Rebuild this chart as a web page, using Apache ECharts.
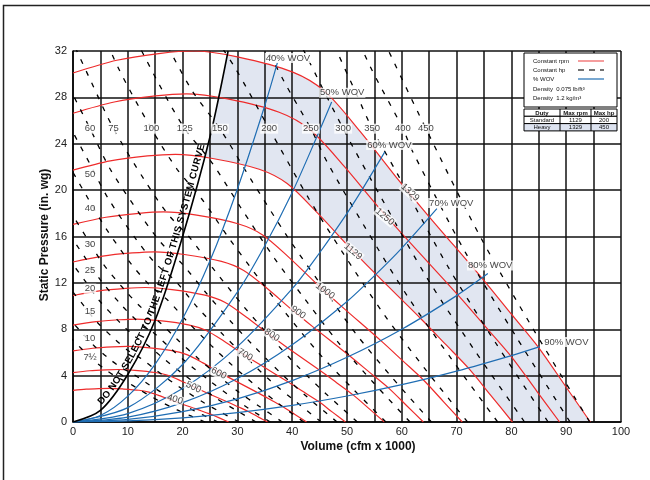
<!DOCTYPE html>
<html>
<head>
<meta charset="utf-8">
<script src="https://cdn.jsdelivr.net/npm/echarts/dist/echarts.min.js"></script>
<style>
html,body{margin:0;padding:0;background:#fff;}
#chart{width:650px;height:480px;}
</style>
</head>
<body>
<div id="chart"></div>
<script>
// ---------------- data ----------------
const xTickValues = [0,10,20,30,40,50,60,70,80,90,100];
const yTickValues = [0,4,8,12,16,20,24,28,32];

// constant rpm curves [volume, pressure]
const rpm1329 = [[0,30.1],[8,31.2],[16,31.8],[22,32.0],[30,31.5],[40,30.2],[46,28.5],[52.5,25.0],[59,21.1],[65,17.7],[75,12.2],[80,9.3],[85,6.4],[90,3.0],[94.4,0]];
const rpm1250 = [[0,26.63],[7.52,27.6],[15.05,28.13],[20.69,28.31],[28.22,27.87],[37.62,26.72],[43.27,25.21],[49.38,22.12],[55.5,18.67],[61.14,15.66],[70.55,10.79],[75.25,8.23],[79.95,5.66],[84.65,2.65],[88.79,0]];
const rpm1129 = [[0,21.72],[6.8,22.52],[13.59,22.95],[18.69,23.09],[25.49,22.73],[33.98,21.8],[39.08,20.57],[44.6,18.04],[50.12,15.23],[55.22,12.77],[63.71,8.8],[67.96,6.71],[72.21,4.62],[76.46,2.17],[80.19,0]];
const rpm1000 = [[0,17.04],[6.02,17.66],[12.04,18.0],[16.55,18.12],[22.57,17.84],[30.1,17.1],[34.61,16.14],[39.5,14.16],[44.39,11.95],[48.91,10.02],[56.43,6.91],[60.19,5.27],[63.95,3.62],[67.72,1.7],[71.03,0]];
const rpm900  = [[0,13.8],[5.42,14.31],[10.84,14.58],[14.9,14.68],[20.32,14.45],[27.09,13.85],[31.15,13.07],[35.55,11.47],[39.95,9.68],[44.02,8.12],[50.79,5.59],[54.18,4.26],[57.56,2.94],[60.95,1.38],[63.93,0]];
const rpm800  = [[0,10.91],[4.82,11.31],[9.63,11.52],[13.24,11.6],[18.06,11.42],[24.08,10.94],[27.69,10.33],[31.61,9.06],[35.52,7.65],[39.13,6.41],[45.15,4.42],[48.16,3.37],[51.17,2.32],[54.18,1.09],[56.83,0]];
const rpm700  = [[0,8.35],[4.21,8.66],[8.43,8.82],[11.59,8.88],[15.8,8.74],[21.07,8.38],[24.23,7.91],[27.65,6.94],[31.08,5.85],[34.24,4.91],[39.5,3.38],[42.14,2.58],[44.77,1.78],[47.4,0.83],[49.72,0]];
const rpm600  = [[0,6.13],[3.61,6.36],[7.22,6.48],[9.93,6.52],[13.55,6.42],[18.06,6.15],[20.77,5.81],[23.7,5.1],[26.64,4.3],[29.35,3.61],[33.86,2.49],[36.12,1.9],[38.38,1.3],[40.64,0.61],[42.62,0]];
const rpm500  = [[0,4.26],[3.01,4.42],[6.02,4.5],[8.28,4.53],[11.29,4.46],[15.05,4.27],[17.31,4.03],[19.75,3.54],[22.2,2.99],[24.45,2.5],[28.22,1.73],[30.1,1.32],[31.98,0.91],[33.86,0.42],[35.51,0]];
const rpm400  = [[0,2.73],[2.41,2.83],[4.82,2.88],[6.62,2.9],[9.03,2.85],[12.04,2.74],[13.85,2.58],[15.8,2.27],[17.76,1.91],[19.57,1.6],[22.58,1.11],[24.08,0.84],[25.59,0.58],[27.09,0.27],[28.41,0]];

// constant hp lines
const hp7_5 = [[24.1,0],[21.5,0.52],[19.0,1.04],[16.4,1.65],[14.4,2.16],[12.0,2.83],[9.9,3.43],[8.0,3.87],[6.0,4.5],[3.4,5.45],[1.56,6.32],[-0.26,7.17]];
const hp10  = [[26.5,0],[23.6,0.63],[20.9,1.26],[18.1,2.0],[15.9,2.62],[13.2,3.43],[10.9,4.16],[8.8,4.69],[6.6,5.45],[3.8,6.6],[1.7,7.66],[-0.28,8.69]];
const hp15  = [[30.3,0],[27.0,0.83],[23.9,1.66],[20.7,2.62],[18.1,3.44],[15.1,4.5],[12.5,5.45],[10.1,6.15],[7.6,7.15],[4.3,8.66],[1.96,10.04],[-0.32,11.4]];
const hp20  = [[33.4,0],[29.8,1.0],[26.3,2.0],[22.8,3.18],[20.0,4.17],[16.6,5.45],[13.7,6.6],[11.1,7.45],[8.4,8.66],[4.75,10.5],[2.16,12.2],[-0.35,13.8]];
const hp25  = [[36.0,0],[32.1,1.16],[28.4,2.33],[24.6,3.68],[21.5,4.83],[17.9,6.32],[14.8,7.66],[11.9,8.65],[9.0,10.0],[5.1,12.2],[2.33,14.1],[-0.38,16.0]];
const hp30  = [[38.2,0],[34.1,1.32],[30.1,2.63],[26.1,4.16],[22.9,5.46],[19.0,7.13],[15.7,8.65],[12.7,9.77],[9.6,11.3],[5.4,13.7],[2.47,15.9],[-0.41,18.1]];
const hp40  = [[42.1,0],[37.5,1.59],[33.2,3.19],[28.7,5.04],[25.2,6.61],[20.9,8.65],[17.3,10.5],[14.0,11.8],[10.5,13.7],[6.0,16.7],[2.72,19.3],[-0.45,21.9]];
const hp50  = [[45.3,0],[40.4,1.85],[35.7,3.7],[31.0,5.85],[27.1,7.67],[22.5,10.0],[18.6,12.2],[15.0,13.7],[11.3,15.9],[6.4,19.3],[2.93,22.4],[-0.48,25.4]];
const hp60  = [[48.2,0],[42.9,2.09],[38.0,4.18],[32.9,6.6],[28.8,8.67],[24.0,11.3],[19.8,13.7],[16.0,15.5],[12.1,18.0],[6.8,21.8],[3.12,25.3],[-0.51,28.7]];
const hp75  = [[51.9,0],[46.2,2.42],[40.9,4.84],[35.4,7.66],[31.0,10.05],[25.8,13.1],[21.3,15.9],[17.2,18.0],[13.0,20.9],[7.4,25.3],[3.36,29.3],[-0.55,33.3]];
const hp100 = [[57.1,0],[50.9,2.94],[45.0,5.87],[39.0,9.28],[34.2,12.2],[28.4,15.9],[23.4,19.3],[19.0,21.8],[14.3,25.3],[8.1,30.7],[3.7,35.6]];
const hp125 = [[61.5,0],[54.8,3.41],[48.5,6.81],[42.0,10.8],[36.8,14.1],[30.6,18.5],[25.3,22.4],[20.4,25.3],[15.4,29.4],[8.7,35.6]];
const hp150 = [[65.4,0],[58.2,3.85],[51.5,7.69],[44.7,12.2],[39.1,16.0],[32.5,20.9],[26.8,25.3],[21.7,28.6],[16.4,33.2]];
const hp200 = [[72.0,0],[64.1,4.66],[56.7,9.32],[49.1,14.7],[43.0,19.3],[35.8,25.3],[29.5,30.6],[23.9,34.6]];
const hp250 = [[77.5,0],[69.1,5.41],[61.1,10.8],[52.9,17.1],[46.4,22.4],[43.4,25.3],[38.6,29.3],[31.8,35.5]];
const hp300 = [[82.4,0],[73.4,6.1],[64.9,12.2],[56.3,19.3],[49.3,25.3],[41.0,33.1]];
const hp350 = [[86.7,0],[77.2,6.77],[68.3,13.5],[59.2,21.4],[54.6,25.3],[51.9,28.1],[43.6,36.7]];
const hp400 = [[90.7,0],[80.8,7.4],[71.4,14.8],[61.9,23.4],[60.2,25.3],[54.2,30.7],[45.1,40.1]];
const hp450 = [[94.3,0],[84.0,8],[74.3,16],[64.4,25.3],[56.4,33.2]];

// % WOV system lines
const wov40 = [[0,0],[5,0.56],[10,2.23],[15,5.0],[20,8.9],[25,13.9],[30,20.1],[35,27.3],[37.3,31.0]];
const wov50 = [[0,0],[10,1.24],[20,4.96],[30,11.2],[35,15.2],[40,19.8],[44.5,24.6],[47.2,27.6]];
const wov60 = [[0,0],[10,0.72],[20,2.88],[30,6.5],[40,11.5],[45,14.6],[50,18.0],[52.7,20.0],[56.9,23.3]];
const wov70 = [[0,0],[10,0.42],[20,1.67],[30,3.75],[40,6.67],[50,10.4],[55.4,12.8],[60,15.0],[66.4,18.4]];
const wov80 = [[0,0],[10,0.22],[20,0.89],[30,2.0],[40,3.57],[50,5.58],[60,8.0],[70,10.9],[75.7,12.8]];
const wov90 = [[0,0],[10,0.09],[20,0.36],[30,0.81],[40,1.43],[50,2.24],[60,3.22],[70,4.39],[80,5.73],[85.2,6.5]];

// "do not select" system curve
const sysCurve = [[0,0],[5,1.0],[10,4.1],[15,8.8],[20,16.0],[25,24.6],[28.3,32]];

// labels
const rpmLabelText = ['400','500','600','700','800','900','1000','1129','1250','1329'];
const rpmLabelAt = [[18.6,1.95],[22.0,3.0],[26.6,4.2],[31.4,5.8],[36.3,7.5],[41.1,9.45],[46.0,11.3],[51.1,14.7],[56.9,17.7],[61.5,19.8]];
const rpmLabelAngle = [18,25,27,31,33,36,37,40,40,42];

const hpLabelText = ['60','75','100','125','150','200','250','300','350','400','450','50','40','30','25','20','15','10','7½'];
const hpLabelAt = [[3.1,25.3],[7.4,25.3],[14.3,25.3],[20.4,25.3],[26.8,25.3],[35.8,25.3],[43.4,25.3],[49.3,25.3],[54.6,25.3],[60.2,25.3],[64.4,25.3],[3.1,21.4],[3.1,18.4],[3.1,15.3],[3.1,13.1],[3.1,11.5],[3.1,9.5],[3.1,7.2],[3.1,5.6]];

const wovLabelText = ['40% WOV','50% WOV','60% WOV','70% WOV','80% WOV','90% WOV'];
const wovLabelAt = [[35.0,31.4],[44.9,28.4],[53.5,23.9],[64.8,18.9],[71.9,13.5],[85.8,6.9]];

const curveText = 'DO NOT SELECT TO THE LEFT OF THIS SYSTEM CURVE';

const legendRows = ['Constant rpm','Constant hp','% WOV','Density  0.075 lb/ft³','Density  1.2 kg/m³'];
const tableHeader = ['Duty','Max rpm','Max hp'];
const tableRows = [['Standard','1129','200'],['Heavy','1329','450']];

// ---------------- chart ----------------
const FONT = '"Liberation Sans", Arial, Helvetica, sans-serif';
const RED = '#ee2b2b', BLUE = '#1f6db3', SHADE = '#e1e6f1';
const chart = echarts.init(document.getElementById('chart'), null, {renderer:'canvas', width:650, height:480});

const rpmCurves = [rpm400,rpm500,rpm600,rpm700,rpm800,rpm900,rpm1000,rpm1129,rpm1250,rpm1329];
const hpLines = [hp7_5,hp10,hp15,hp20,hp25,hp30,hp40,hp50,hp60,hp75,hp100,hp125,hp150,hp200,hp250,hp300,hp350,hp400,hp450];
const wovLines = [wov40,wov50,wov60,wov70,wov80,wov90];

const series = [];
series.push({type:'line', data:rpm1329, smooth:0.3, symbol:'none', silent:true, z:1,
  lineStyle:{width:0, opacity:0}, areaStyle:{color:SHADE, opacity:1}});
series.push({type:'line', data:rpm1129, smooth:0.3, symbol:'none', silent:true, z:2,
  lineStyle:{width:0, opacity:0}, areaStyle:{color:'#ffffff', opacity:1}});
series.push({type:'line', data:sysCurve, smooth:0.3, symbol:'none', silent:true, z:2,
  lineStyle:{width:0, opacity:0}, areaStyle:{color:'#ffffff', opacity:1, origin:'end'}});
rpmCurves.forEach(d => series.push({type:'line', data:d, smooth:0.3, symbol:'none', silent:true, z:4,
  lineStyle:{color:RED, width:1.2}}));
hpLines.forEach(d => series.push({type:'line', data:d, smooth:0.3, symbol:'none', silent:true, z:4,
  lineStyle:{color:'#000', width:1.3, type:[5,8]}}));
wovLines.forEach(d => series.push({type:'line', data:d, smooth:0.3, symbol:'none', silent:true, z:5,
  lineStyle:{color:BLUE, width:1.2}}));
series.push({type:'line', data:sysCurve, smooth:0.3, symbol:'none', silent:true, z:5,
  lineStyle:{color:'#000', width:1.6}});

const labelBase = {show:true, position:'inside', fontFamily:FONT, fontSize:9.5, color:'#111',
  backgroundColor:'#fff', padding:[0,1]};
series.push({type:'scatter', silent:true, z:7, symbolSize:1, itemStyle:{color:'rgba(0,0,0,0)'},
  data: rpmLabelText.map((t,i)=>({value:rpmLabelAt[i], label:{formatter:t, rotate:-rpmLabelAngle[i]}})),
  label: labelBase});
series.push({type:'scatter', silent:true, z:7, symbolSize:1, itemStyle:{color:'rgba(0,0,0,0)'},
  data: hpLabelText.map((t,i)=>({value:hpLabelAt[i], label:{formatter:t}})),
  label: labelBase});
series.push({type:'scatter', silent:true, z:6, symbolSize:1, itemStyle:{color:'rgba(0,0,0,0)'},
  data: wovLabelText.map((t,i)=>({value:wovLabelAt[i], label:{formatter:t}})),
  label: Object.assign({}, labelBase, {align:'left', fontSize:9.5})});

chart.setOption({
  animation:false,
  backgroundColor:'#fff',
  grid:{left:73, right:29, top:51, bottom:58, show:false},
  xAxis:{type:'value', min:0, max:100, interval:5, z:3,
    axisLine:{show:true, onZero:false, lineStyle:{color:'#000', width:1.5}},
    axisTick:{show:false},
    axisLabel:{margin:4, fontFamily:FONT, fontSize:11, color:'#222',
      formatter: v => xTickValues.indexOf(v) >= 0 ? String(v) : ''},
    splitLine:{show:true, lineStyle:{color:'#111', width:1.5}}},
  yAxis:{type:'value', min:0, max:32, interval:4, z:3,
    axisLine:{show:true, onZero:false, lineStyle:{color:'#000', width:1.5}},
    axisTick:{show:false},
    axisLabel:{margin:6, fontFamily:FONT, fontSize:11, color:'#222',
      formatter: v => yTickValues.indexOf(v) >= 0 ? String(v) : ''},
    splitLine:{show:true, lineStyle:{color:'#111', width:1.5}}},
  series: series
});

// ---------------- graphics: titles, legend box, table, frame, curved text ----------------
function txt(x, y, text, font, align, opts) {
  return Object.assign({type:'text', x:x, y:y, z:60, silent:true,
    style:{text:text, font:font, fill:'#111', align:align||'left', textAlign:align||'left',
      verticalAlign:'middle', textVerticalAlign:'middle'}}, opts||{});
}
const g = [];
g.push({type:'rect', z:100, silent:true, shape:{x:3.5, y:5.5, width:700, height:600},
  style:{fill:'transparent', stroke:'#222', lineWidth:1.5}});
g.push(txt(358, 447, 'Volume (cfm x 1000)', 'bold 12px ' + FONT, 'center'));
g.push(txt(45, 235, 'Static Pressure (in. wg)', 'bold 12px ' + FONT, 'center', {rotation:Math.PI/2}));

// legend box
const LX = 524, LY = 53, LW = 93, LH = 54;
g.push({type:'rect', z:50, silent:true, shape:{x:LX, y:LY, width:LW, height:LH},
  style:{fill:'#fff', stroke:'#000', lineWidth:1}});
const rowY = [61, 70, 79, 89, 98];
legendRows.forEach((t,i) => g.push(txt(LX+9, rowY[i], t, '6px ' + FONT, 'left')));
g.push({type:'line', z:60, silent:true, shape:{x1:578, y1:rowY[0], x2:604, y2:rowY[0]}, style:{stroke:'#f27d7d', lineWidth:1.5}});
g.push({type:'line', z:60, silent:true, shape:{x1:578, y1:rowY[1], x2:604, y2:rowY[1]}, style:{stroke:'#444', lineWidth:1.3, lineDash:[6,5]}});
g.push({type:'line', z:60, silent:true, shape:{x1:578, y1:rowY[2], x2:604, y2:rowY[2]}, style:{stroke:BLUE, lineWidth:1.2}});

// table
const TX = 524, TY = 109, colX = [524, 560, 591, 617], rowH = [7.3, 7.3, 7.3];
let yy = TY;
const allRows = [tableHeader].concat(tableRows);
allRows.forEach((r, ri) => {
  g.push({type:'rect', z:50, silent:true, shape:{x:TX, y:yy, width:colX[3]-colX[0], height:rowH[ri]},
    style:{fill: ri===2 ? '#dde3f0' : '#fff', stroke:'#000', lineWidth:1}});
  for (let c=0;c<3;c++) {
    if (c>0) g.push({type:'line', z:55, silent:true, shape:{x1:colX[c], y1:yy, x2:colX[c], y2:yy+rowH[ri]}, style:{stroke:'#000', lineWidth:1}});
    g.push(txt((colX[c]+colX[c+1])/2, yy+rowH[ri]/2+0.3, r[c], (ri===0?'bold ':'') + '6px ' + FONT, 'center'));
  }
  yy += rowH[ri];
});

// curved text along the system curve
(function(){
  const px = sysCurve.map(p => chart.convertToPixel({gridIndex:0}, p));
  const dense = [];
  const n = px.length;
  const f = (a,b,c,d,t) => { const t2=t*t, t3=t2*t; return 0.5*(2*b+(-a+c)*t+(2*a-5*b+4*c-d)*t2+(-a+3*b-3*c+d)*t3); };
  for (let i=0;i<n-1;i++){
    const p0=px[Math.max(i-1,0)], p1=px[i], p2=px[i+1], p3=px[Math.min(i+2,n-1)];
    for (let k=0;k<30;k++){ const t=k/30; dense.push([f(p0[0],p1[0],p2[0],p3[0],t), f(p0[1],p1[1],p2[1],p3[1],t)]); }
  }
  dense.push(px[n-1]);
  const cum=[0];
  for (let i=1;i<dense.length;i++) cum.push(cum[i-1]+Math.hypot(dense[i][0]-dense[i-1][0], dense[i][1]-dense[i-1][1]));
  const at = s => { let i=1; while(i<cum.length-1 && cum[i]<s) i++; const t=(s-cum[i-1])/((cum[i]-cum[i-1])||1);
    return [dense[i-1][0]+(dense[i][0]-dense[i-1][0])*t, dense[i-1][1]+(dense[i][1]-dense[i-1][1])*t]; };
  const sAtX = xp => { for (let i=1;i<dense.length;i++){ if (dense[i][0]>=xp){ const t=(xp-dense[i-1][0])/((dense[i][0]-dense[i-1][0])||1); return cum[i-1]+(cum[i]-cum[i-1])*t; } } return cum[cum.length-1]; };
  const s0 = sAtX(chart.convertToPixel({xAxisIndex:0}, 5.6));
  const s1 = sAtX(chart.convertToPixel({xAxisIndex:0}, 24.6));
  const avail = (s1 - s0) * 0.93; // text sits on the inner side of the bend
  const ctx = document.createElement('canvas').getContext('2d');
  // prefer a narrow face; choose a size that fills the available arc
  const fam = '"Liberation Sans Narrow", "Arial Narrow", ' + FONT;
  ctx.font = 'bold 12px ' + fam;
  let w12 = ctx.measureText(curveText).width;
  let size = Math.min(12.5, 12 * avail / w12);
  const font = 'bold ' + size.toFixed(2) + 'px ' + fam;
  ctx.font = font;
  const widths = curveText.split('').map(ch => ctx.measureText(ch).width);
  const total = widths.reduce((a,b)=>a+b,0);
  const k = (s1-s0)/total;
  let acc = 0;
  curveText.split('').forEach((ch,i) => {
    const s = s0 + k*(acc + widths[i]/2);
    acc += widths[i];
    if (ch === ' ') return;
    const p = at(s), a = at(s-5), b = at(s+5);
    let dx=b[0]-a[0], dy=b[1]-a[1]; const L=Math.hypot(dx,dy)||1; dx/=L; dy/=L;
    const off = size*0.62;
    const x = p[0] + dy*off, y = p[1] - dx*off;
    g.push({type:'text', x:x, y:y, z:60, silent:true, rotation:-Math.atan2(dy,dx),
      style:{text:ch, font:font, fill:'#000', align:'center', textAlign:'center', verticalAlign:'middle', textVerticalAlign:'middle'}});
  });
})();

chart.setOption({graphic:{elements:g}});
</script>
</body>
</html>
